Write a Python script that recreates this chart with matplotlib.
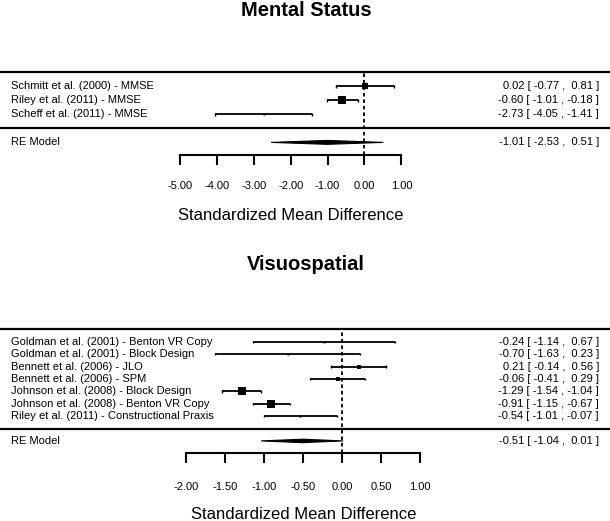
import numpy as np
import matplotlib
matplotlib.use("Agg")
import matplotlib.pyplot as plt

plt.rcParams['font.family'] = ['Liberation Sans', 'DejaVu Sans']

# Mental Status
ms_labels = ["Schmitt et al. (2000) - MMSE",
             "Riley et al. (2011) - MMSE",
             "Scheff et al. (2011) - MMSE"]
ms_est = [0.02, -0.60, -2.73]
ms_lb = [-0.77, -1.01, -4.05]
ms_ub = [0.81, -0.18, -1.41]
ms_size = [4.3, 5.2, 1.4]
ms_re = (-1.01, -2.53, 0.51)
ms_ticks = [-5, -4, -3, -2, -1, 0, 1]

# Visuospatial
vs_labels = ["Goldman et al. (2001) - Benton VR Copy",
             "Goldman et al. (2001) - Block Design",
             "Bennett et al. (2006) - JLO",
             "Bennett et al. (2006) - SPM",
             "Johnson et al. (2008) - Block Design",
             "Johnson et al. (2008) - Benton VR Copy",
             "Riley et al. (2011) - Constructional Praxis"]
vs_est = [-0.24, -0.70, 0.21, -0.06, -1.29, -0.91, -0.54]
vs_lb = [-1.14, -1.63, -0.14, -0.41, -1.54, -1.15, -1.01]
vs_ub = [0.67, 0.23, 0.56, 0.29, -1.04, -0.67, -0.07]
vs_size = [1.4, 1.4, 3.4, 3.4, 5.2, 5.2, 1.4]
vs_re = (-0.51, -1.04, 0.01)
vs_ticks = [-2.0, -1.5, -1.0, -0.5, 0.0, 0.5, 1.0]

W, H = 610, 521
fig = plt.figure(figsize=(W / 100, H / 100), dpi=100)

FS = 8.0


def fmt(e, l, u):
    return f"{e:.2f} [{l:6.2f} , {u:5.2f} ]"


def forest(rect, xlim, labels, est, lb, ub, size, re, ticks,
           axis_y, tick_pad, xlab_off):
    ax = fig.add_axes(rect)
    k = len(labels)
    rows = np.arange(k, 0, -1)
    ax.set_xlim(*xlim)
    ax.set_ylim(axis_y, k + 1)

    # frame lines
    ax.axhline(k + 1, color='black', lw=1.6, clip_on=False)
    ax.axhline(0, color='black', lw=1.6)
    ax.vlines(0, axis_y, k + 1, color='black', lw=1.3,
              linestyles=(0, (2, 1.6)))

    # studies
    ax.hlines(rows, lb, ub, color='black', lw=1.3)
    ax.vlines(lb, rows - 0.1, rows + 0.1, color='black', lw=1.0)
    ax.vlines(ub, rows - 0.1, rows + 0.1, color='black', lw=1.0)
    for r, e, s in zip(rows, est, size):
        ax.plot(e, r, 's', color='black', ms=s, mew=0)

    # RE diamond
    e, l, u = re
    ax.fill([l, e, u, e], [-1, -0.86, -1, -1.14], color='black', lw=0.8,
            edgecolor='black')

    tr = ax.get_yaxis_transform()
    for r, lab, e_, l_, u_ in zip(rows, labels, est, lb, ub):
        ax.text(11 / W, r, lab, transform=tr, ha='left', va='center',
                fontsize=FS)
        ax.text(599 / W, r, fmt(e_, l_, u_), transform=tr, ha='right',
                va='center', fontsize=FS)
    ax.text(11 / W, -1, "RE Model", transform=tr, ha='left', va='center',
            fontsize=FS)
    ax.text(599 / W, -1, fmt(e, l, u), transform=tr, ha='right',
            va='center', fontsize=FS)

    # axis
    for side in ['left', 'right', 'top']:
        ax.spines[side].set_visible(False)
    ax.spines['bottom'].set_position(('data', axis_y))
    ax.spines['bottom'].set_bounds(ticks[0], ticks[-1])
    ax.spines['bottom'].set_linewidth(1.5)
    ax.set_yticks([])
    ax.set_xticks(ticks)
    ax.set_xticklabels([f"{t:.2f}" for t in ticks])
    ax.tick_params(axis='x', direction='out', length=7.5, width=1.5,
                   labelsize=FS, pad=tick_pad)
    ax.patch.set_visible(False)

    ax.annotate("Standardized Mean Difference",
                xy=(np.mean([ticks[0], ticks[-1]]), axis_y), xycoords='data',
                xytext=(0, -xlab_off), textcoords='offset pixels',
                ha='center', va='center', fontsize=12)
    return ax


# top panel: row 4 at 72px, axis at 155px
forest([0, 1 - 155 / H, 1, (155 - 72.3) / H], (-364.5 / 36.9, (W - 364.5) / 36.9),
       ms_labels, ms_est, ms_lb, ms_ub, ms_size, ms_re, ms_ticks,
       axis_y=-1.9, tick_pad=11.5, xlab_off=61)

# bottom panel
forest([0, 1 - 453.3 / H, 1, (453.3 - 329.5) / H], (-342.3 / 78, (W - 342.3) / 78),
       vs_labels, vs_est, vs_lb, vs_ub, vs_size, vs_re, vs_ticks,
       axis_y=-2.0, tick_pad=13.5, xlab_off=61)

fig.text(0.502, 1 - 10 / H, "Mental Status", ha='center', va='center',
         fontsize=14.5, fontweight='bold')
fig.text(0.502, 1 - 265 / H, "Visuospatial", ha='center', va='center',
         fontsize=14.5, fontweight='bold')

fig.savefig("out.png", dpi=100)
